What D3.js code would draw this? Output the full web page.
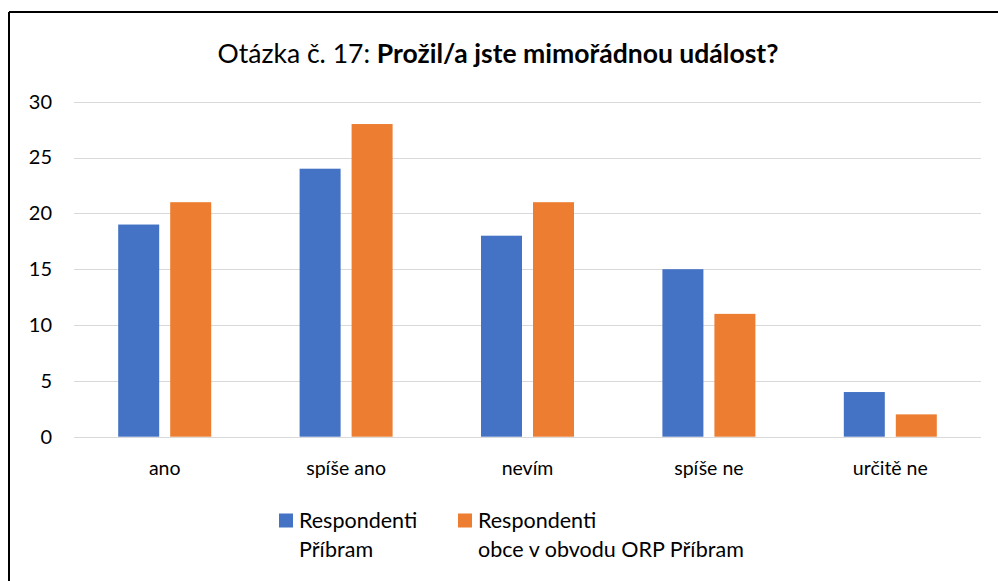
<!DOCTYPE html>
<html><head><meta charset="utf-8">
<script src="https://cdn.jsdelivr.net/npm/d3@7"></script>
<style>html,body{margin:0;padding:0;background:#fff;}svg{display:block;font-family:Lato,"Open Sans",sans-serif;}</style>
</head><body>
<svg id="c" width="998" height="581"></svg>
<script>
const categories = ["ano", "spíše ano", "nevím", "spíše ne", "určitě ne"];
const seriesNames = ["Respondenti Příbram", "Respondenti obce v obvodu ORP Příbram"];
const seriesPribram = [19, 24, 18, 15, 4];
const seriesObce = [21, 28, 21, 11, 2];
const yTicks = [0, 5, 10, 15, 20, 25, 30];
const colors = ["#4472C4", "#ED7D31"];

(function () {
const svg = d3.select("#c");
svg.append("line").attr("x1", 9).attr("x2", 998).attr("y1", 12).attr("y2", 12).attr("stroke", "#000").attr("stroke-width", 2);
svg.append("line").attr("x1", 9).attr("x2", 9).attr("y1", 12).attr("y2", 581).attr("stroke", "#000").attr("stroke-width", 2);

const title = svg.append("text").attr("x", 498).attr("y", 63).attr("text-anchor", "middle").attr("font-size", 22).attr("fill", "#000");
title.append("tspan").text("Otázka č. 17: ");
title.append("tspan").attr("font-weight", "bold").text("Prožil/a jste mimořádnou událost?");
const tw = title.node().getComputedTextLength();
title.attr("font-size", 22 * 561 / tw);

const pLeft = 74, pRight = 981, pTop = 101.7, pBottom = 436.7;
const y = d3.scaleLinear().domain([0, 30]).range([pBottom, pTop]);
const x0 = d3.scaleBand().domain(categories).range([pLeft, pRight]).padding(0);
const bw = x0.bandwidth();
const groupW = 93;
const x1 = d3.scaleBand().domain([0, 1]).range([(bw - groupW) / 2, (bw + groupW) / 2]).paddingInner(11 / 52).paddingOuter(0);

svg.append("g").selectAll("line").data(yTicks).join("line")
  .attr("x1", pLeft).attr("x2", pRight)
  .attr("y1", d => Math.round(y(d)) + 0.5).attr("y2", d => Math.round(y(d)) + 0.5)
  .attr("stroke", "#D9D9D9").attr("stroke-width", 1.2);

const yAxis = d3.axisLeft(y).tickValues(yTicks).tickSize(0).tickPadding(0);
const ga = svg.append("g").attr("transform", `translate(${52},0)`).call(yAxis);
ga.select(".domain").remove();
ga.selectAll("text").attr("font-size", 20).attr("fill", "#000").attr("font-family", "Lato, sans-serif");

const data = categories.map((c, i) => ({c, vals: [seriesPribram[i], seriesObce[i]]}));
const g = svg.append("g");
data.forEach(d => {
  d.vals.forEach((v, j) => {
    g.append("rect")
      .attr("x", x0(d.c) + x1(j))
      .attr("y", y(v))
      .attr("width", x1.bandwidth())
      .attr("height", y(0) - y(v))
      .attr("fill", colors[j]);
  });
});

const xAxis = d3.axisBottom(x0).tickSize(0).tickPadding(0);
const gx = svg.append("g").attr("transform", `translate(0,0)`).call(xAxis);
gx.select(".domain").remove();
gx.selectAll("text").attr("font-size", 19.5).attr("fill", "#000").attr("font-family", "Lato, sans-serif").attr("y", 475).attr("dy", 0);

const legendItems = [
  {sx: 279, tx: 299, lines: ["Respondenti", "Příbram"], color: colors[0]},
  {sx: 458, tx: 478, lines: ["Respondenti", "obce v obvodu ORP Příbram"], color: colors[1]}
];
const lg = svg.append("g");
legendItems.forEach(it => {
  lg.append("rect").attr("x", it.sx).attr("y", 513.5).attr("width", 14).attr("height", 14).attr("fill", it.color);
  const t = lg.append("text").attr("x", it.tx).attr("y", 528).attr("font-size", 21.5).attr("fill", "#000");
  it.lines.forEach((l, k) => t.append("tspan").attr("x", it.tx).attr("dy", k === 0 ? 0 : 29).text(l));
});
})();
</script>
</body></html>
